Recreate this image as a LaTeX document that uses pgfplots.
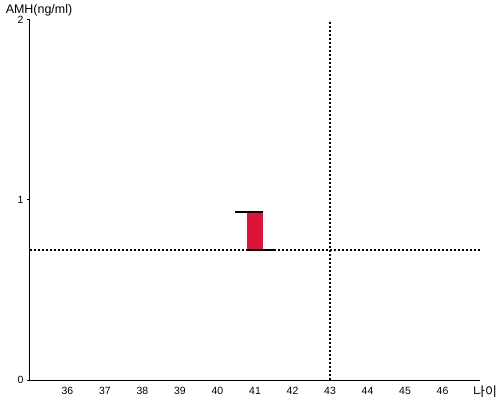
\documentclass[border=0pt]{standalone}
\usepackage{fontspec}
\setmainfont{Liberation Sans}
\newfontfamily\cjk{Noto Sans CJK KR}
\usepackage{pgfplots}
\pgfplotsset{compat=1.18}
\definecolor{crimson}{HTML}{DC143C}
\begin{document}
\begin{tikzpicture}
\useasboundingbox (-30bp,-20bp) rectangle (470bp,380bp);
\begin{axis}[at={(0,0)}, anchor=south west, scale only axis, width=450bp, height=360bp,
 xmin=35, xmax=47, ymin=0, ymax=2,
 axis x line*=bottom, axis y line*=left,
 axis line style={line width=1bp, black},
 xtick={36,...,46}, ytick={0,1,2},
 x tick style={draw=none}, y tick style={line width=1bp, black},
 tick align=outside, major tick length=3bp,
 /pgf/number format/assume math mode=true,
 tick label style={font=\fontsize{10.5}{12}\selectfont},
 xticklabel style={yshift=-1bp},
 clip=false,
 ylabel={AMH(ng/ml)},
 ylabel style={rotate=-90, at={(rel axis cs:0,1)}, anchor=center, xshift=9bp, yshift=10bp, font=\fontsize{12.5}{14}\selectfont},
 xlabel={{\cjk 나이}},
 xlabel style={at={(rel axis cs:1,0)}, anchor=center, xshift=5bp, yshift=-12bp, font=\fontsize{13}{15}\selectfont},
]
\addplot[black, line width=2bp, dash pattern=on 2bp off 2bp] coordinates {(35,0.722) (47,0.722)};
\addplot[black, line width=2bp, dash pattern=on 2bp off 2bp] coordinates {(43,0) (43,2)};
\addplot[fill=crimson, draw=none] coordinates {(40.78,0.722) (41.2,0.722) (41.2,0.935) (40.78,0.935)} -- cycle;
\addplot[black, line width=2bp] coordinates {(40.47,0.935) (41.2,0.935)};
\addplot[black, line width=2bp] coordinates {(40.78,0.722) (41.53,0.722)};
\end{axis}
\end{tikzpicture}
\end{document}
